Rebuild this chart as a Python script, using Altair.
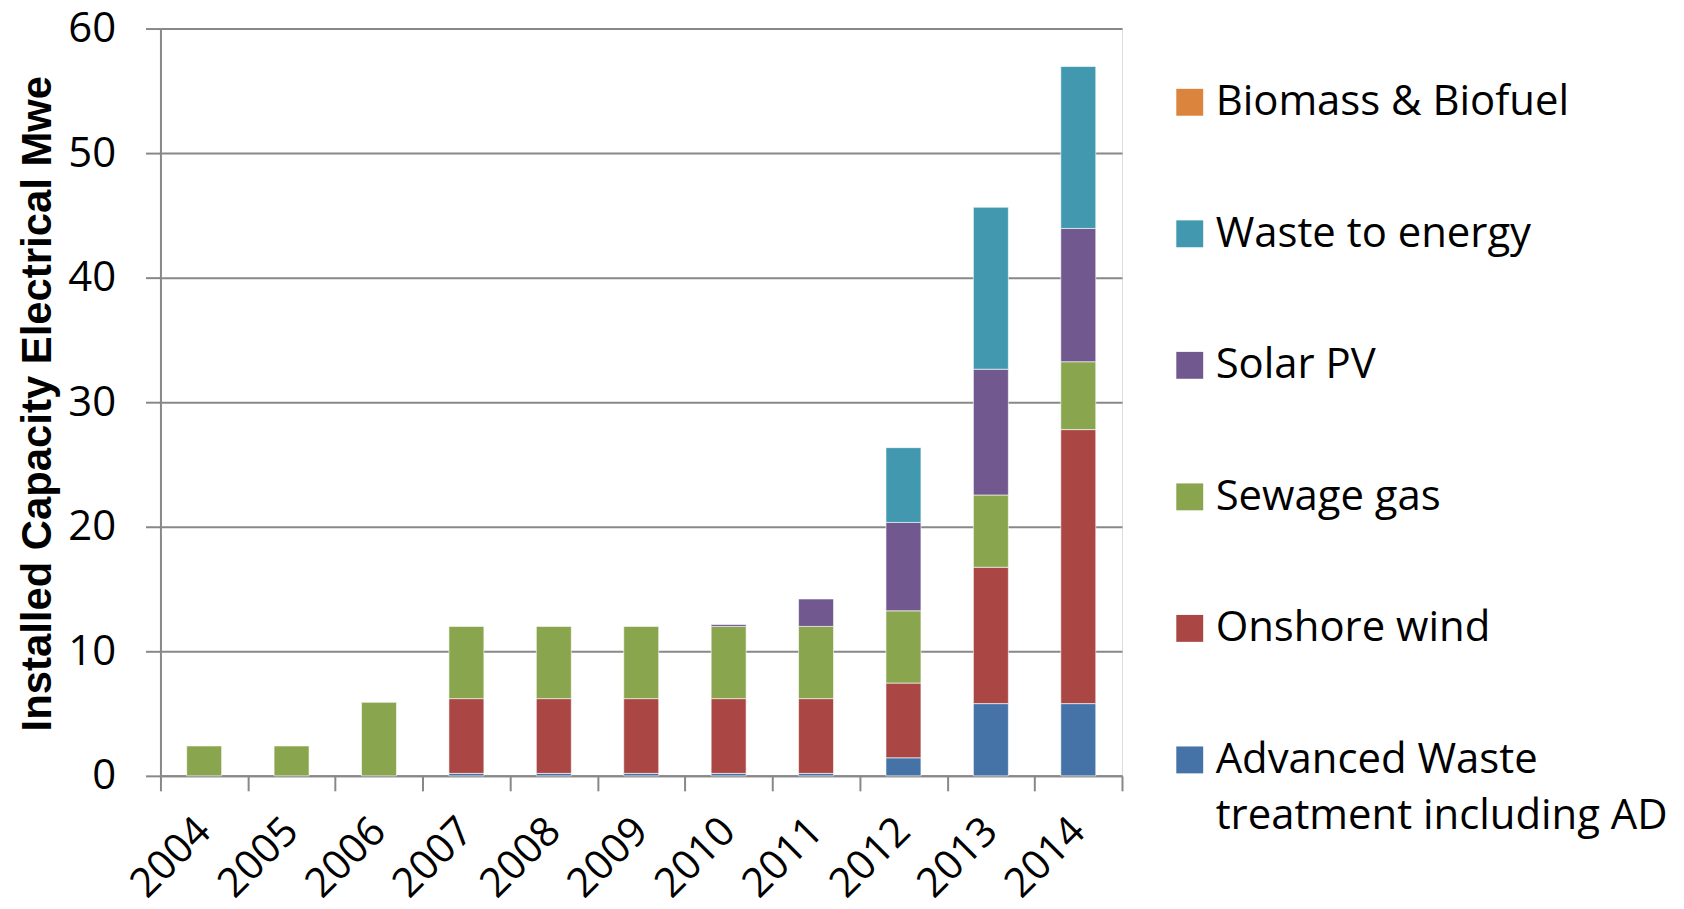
import altair as alt
import pandas as pd

years = ["2004", "2005", "2006", "2007", "2008", "2009", "2010", "2011", "2012", "2013", "2014"]
advanced_waste = [0, 0, 0, 0.2, 0.2, 0.2, 0.2, 0.2, 1.45, 5.8, 5.8]
onshore_wind = [0, 0, 0, 6.0, 6.0, 6.0, 6.0, 6.0, 6.0, 10.95, 22.0]
sewage_gas = [2.4, 2.4, 5.9, 5.8, 5.8, 5.8, 5.8, 5.8, 5.8, 5.8, 5.45]
solar_pv = [0, 0, 0, 0, 0, 0, 0.15, 2.2, 7.1, 10.1, 10.7]
waste_to_energy = [0, 0, 0, 0, 0, 0, 0, 0, 6.0, 13.0, 13.0]
biomass_biofuel = [0, 0, 0, 0, 0, 0, 0, 0, 0, 0, 0]

series_names = [
    "Advanced Waste treatment including AD",
    "Onshore wind",
    "Sewage gas",
    "Solar PV",
    "Waste to energy",
    "Biomass & Biofuel",
]
series_values = [advanced_waste, onshore_wind, sewage_gas, solar_pv, waste_to_energy, biomass_biofuel]
series_colors = ["#4572A7", "#AA4643", "#89A54E", "#71588F", "#4198AF", "#DB843D"]

rows = []
for idx, (name, vals) in enumerate(zip(series_names, series_values)):
    for y, v in zip(years, vals):
        rows.append({"year": y, "series": name, "value": v, "idx": idx})
df = pd.DataFrame(rows)

legend_domain = list(reversed(series_names))
legend_range = list(reversed(series_colors))

label_expr = (
    "datum.label == 'Advanced Waste treatment including AD' ? "
    "['Advanced Waste', 'treatment including AD'] : datum.label"
)

chart = (
    alt.Chart(df)
    .transform_filter("datum.value > 0")
    .mark_bar(
        width=alt.RelativeBandSize(0.4),
        stroke="white",
        strokeWidth=1,
        strokeOpacity=0.6,
    )
    .encode(
        x=alt.X(
            "year:N",
            sort=years,
            scale=alt.Scale(paddingInner=0, paddingOuter=0, round=False),
            axis=alt.Axis(
                title=None,
                labelAngle=315,
                labelAlign="right",
                labelBaseline="middle",
                labelFont="Open Sans",
                labelFontSize=41,
                labelColor="#000000",
                labelPadding=34,
                labelOffset=0,
                tickBand="extent",
                tickSize=15,
                tickColor="#888888",
                tickWidth=2,
                domainColor="#888888",
                domainWidth=2,
                grid=False,
            ),
        ),
        y=alt.Y(
            "value:Q",
            stack="zero",
            scale=alt.Scale(domain=[0, 60], nice=False),
            axis=alt.Axis(
                title="Installed Capacity Electrical Mwe",
                titleFont="Liberation Sans",
                titleFontWeight="bold",
                titleFontSize=42,
                titleColor="#000000",
                titleAngle=270,
                titleAlign="center",
                titleBaseline="middle",
                titleX=-123,
                titleY=376,
                values=[0, 10, 20, 30, 40, 50, 60],
                labelFont="Open Sans",
                labelFontSize=42,
                labelColor="#000000",
                labelPadding=30,
                tickSize=15,
                tickColor="#888888",
                tickWidth=2,
                domainColor="#888888",
                domainWidth=2,
                gridColor="#888888",
                gridWidth=2,
            ),
        ),
        color=alt.Color(
            "series:N",
            scale=alt.Scale(domain=legend_domain, range=legend_range),
            legend=alt.Legend(
                title=None,
                orient="none",
                legendX=1012,
                legendY=53,
                padding=0,
                symbolType="square",
                symbolSize=729,
                symbolStrokeWidth=0,
                symbolOpacity=1,
                labelFont="Open Sans",
                labelFontSize=42,
                labelColor="#000000",
                labelOffset=5,
                labelLimit=800,
                labelExpr=label_expr,
                rowPadding=90,
            ),
        ),
        order=alt.Order("idx:Q", sort="ascending"),
    )
    .properties(
        width=965,
        height=750,
        autosize=alt.AutoSizeParams(type="none"),
        padding={"left": 153, "top": 19, "right": 556, "bottom": 130},
    )
    .configure_view(stroke=None)
    .configure(style={"guide-label": {"lineHeight": 56}})
)

chart.save("out.html", embed_options={"renderer": "svg", "actions": False})
